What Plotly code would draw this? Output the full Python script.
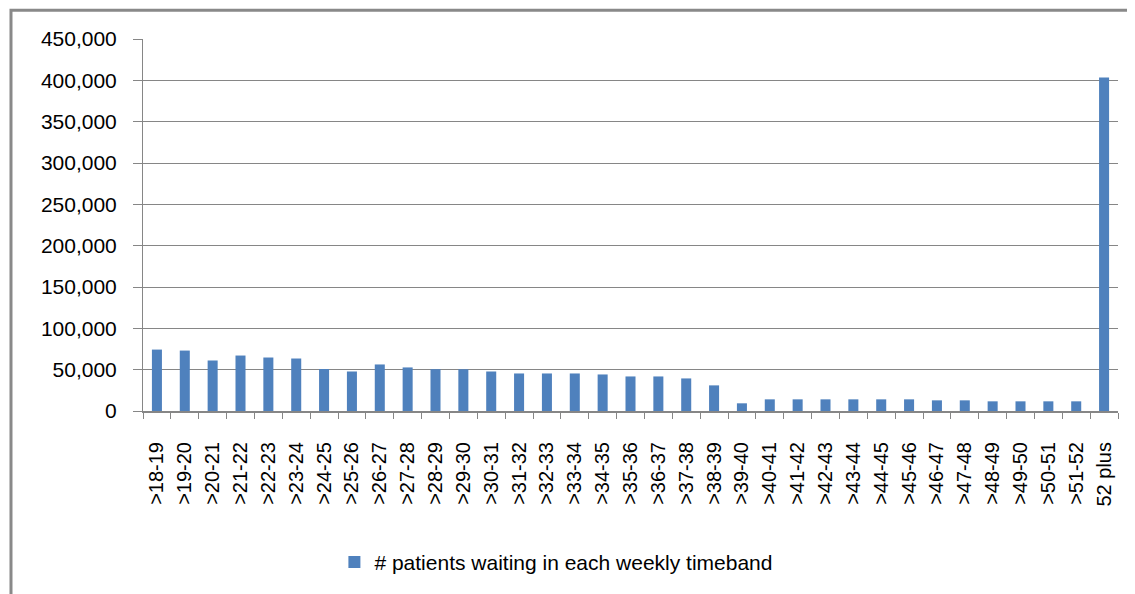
import plotly.graph_objects as go

categories = [">18-19", ">19-20", ">20-21", ">21-22", ">22-23", ">23-24", ">24-25",
              ">25-26", ">26-27", ">27-28", ">28-29", ">29-30", ">30-31", ">31-32",
              ">32-33", ">33-34", ">34-35", ">35-36", ">36-37", ">37-38", ">38-39",
              ">39-40", ">40-41", ">41-42", ">42-43", ">43-44", ">44-45", ">45-46",
              ">46-47", ">47-48", ">48-49", ">49-50", ">50-51", ">51-52", "52 plus"]
patients = [74300, 73100, 61100, 67100, 64700, 63500, 50800, 47800, 56300, 52700,
            50600, 50500, 47800, 45400, 45400, 45400, 44200, 41800, 41800, 39400,
            31000, 9300, 14100, 14100, 14100, 14100, 14100, 14100, 12900, 12900,
            11700, 11700, 11700, 11700, 403300]
series_name = "# patients waiting in each weekly timeband"
y_ticks = list(range(0, 450001, 50000))

FONT = "Liberation Sans"
GRID = "#868686"

fig = go.Figure()
fig.add_trace(go.Bar(x=categories, y=patients, name=series_name,
                     marker=dict(color="#4F81BD", line=dict(width=0))))

# page body has an 8px default margin, so the figure is sized/offset to compensate
fig.update_layout(
    width=1127, height=586,
    margin=dict(l=135, r=17, t=31, b=182),
    paper_bgcolor="white", plot_bgcolor="white",
    bargap=0.64,
    font=dict(family=FONT, color="#000000"),
    showlegend=True,
    legend=dict(orientation="h", x=0.424, y=-0.403, xanchor="center", yanchor="middle",
                font=dict(size=21, family=FONT), bgcolor="rgba(0,0,0,0)"),
    xaxis=dict(type="category", tickangle=-90, tickfont=dict(size=20, family=FONT),
               showline=True, linecolor=GRID, linewidth=2,
               ticks="outside", tickson="boundaries", ticklen=6, tickcolor=GRID, tickwidth=1,
               showgrid=False, ticklabelstandoff=21),
    yaxis=dict(range=[0, 450000], tickvals=y_ticks, tickformat=",",
               tickfont=dict(size=21, family=FONT),
               showline=True, linecolor=GRID, linewidth=1,
               ticks="outside", ticklen=9, tickcolor=GRID,
               showgrid=True, gridcolor=GRID, gridwidth=1, zeroline=False,
               ticklabelstandoff=12),
    shapes=[dict(type="rect", xref="paper", yref="paper",
                 x0=-0.1354, x1=1.1, y0=-0.8, y1=1.0775,
                 line=dict(color="#898989", width=3), fillcolor="rgba(0,0,0,0)", layer="below")],
)

fig.write_html("out.html")
